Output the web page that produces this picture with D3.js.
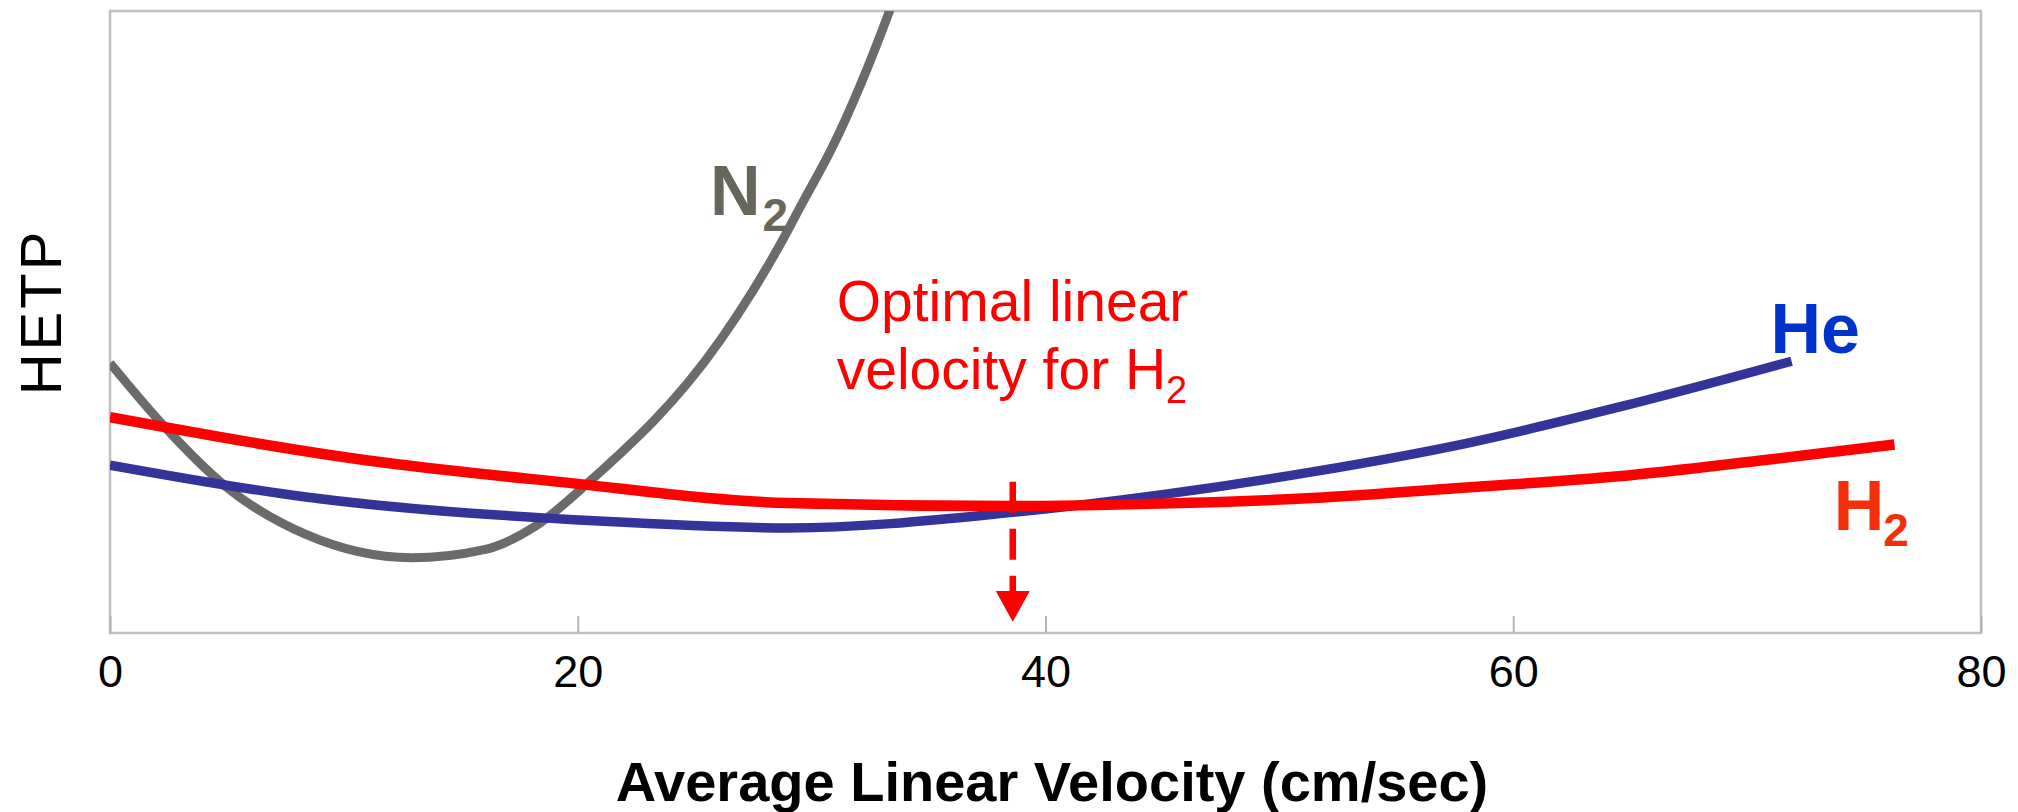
<!DOCTYPE html>
<html>
<head>
<meta charset="utf-8">
<script src="https://cdn.jsdelivr.net/npm/d3@7"></script>
<style>
  body { margin: 0; background: #ffffff; }
  svg { display: block; }
</style>
</head>
<body>
<svg id="chart" width="2018" height="812"></svg>
<script>
// Van Deemter curves: HETP (arbitrary units) vs average linear velocity (cm/sec)
const velocityTicks = [0, 20, 40, 60, 80];

const n2Velocity = [0, 2.3, 5.0, 8.4, 12.9, 16.0, 18.2, 20.4, 26.1, 27.5, 28.6, 29.6, 30.9, 33.3, 34.0];
const n2Hetp     = [43.4, 33.3, 23.4, 15.8, 12.1, 13.4, 17.2, 24.0, 47.1, 55.1, 62.1, 69.1, 78.2, 99.7, 107];

const heVelocity = [0, 8.3, 20.9, 29.0, 38.6, 44.9, 51.4, 58.0, 64.5, 71.9];
const heHetp     = [27.0, 21.9, 18.0, 16.9, 19.4, 22.2, 25.9, 30.5, 36.3, 43.7];

const h2Velocity = [0, 11.7, 19.2, 29.0, 38.6, 44.9, 51.4, 58.0, 64.5, 70.5, 76.3];
const h2Hetp     = [34.7, 27.4, 24.3, 20.9, 20.4, 20.8, 21.7, 23.4, 25.2, 27.7, 30.3];

const optimalH2Velocity = 38.6;

const svg = d3.select("#chart");
const FONT = "'Liberation Sans', Arial, Helvetica, sans-serif";

const plot = { left: 110, right: 1981, top: 11, bottom: 633 };

const x = d3.scaleLinear().domain([0, 80]).range([plot.left, plot.right]);
const y = d3.scaleLinear().domain([0, 100]).range([plot.bottom, plot.top]);

// clip curves to the plotting frame
svg.append("defs").append("clipPath").attr("id", "plot-clip")
  .append("rect")
  .attr("x", plot.left).attr("y", plot.top)
  .attr("width", plot.right - plot.left).attr("height", plot.bottom - plot.top);

// frame
svg.append("rect")
  .attr("x", plot.left).attr("y", plot.top)
  .attr("width", plot.right - plot.left).attr("height", plot.bottom - plot.top)
  .attr("fill", "none").attr("stroke", "#bfbfbf").attr("stroke-width", 2.5);

// x axis: inward ticks and labels
const xAxis = d3.axisBottom(x)
  .tickValues(velocityTicks)
  .tickFormat(d3.format("d"))
  .tickSizeInner(-17)
  .tickSizeOuter(0)
  .tickPadding(22);

const gx = svg.append("g")
  .attr("transform", `translate(0,${plot.bottom})`)
  .call(xAxis);
gx.select(".domain").remove();
gx.selectAll(".tick line").attr("stroke", "#b3b3b3").attr("stroke-width", 2);
gx.selectAll(".tick text")
  .attr("fill", "#000")
  .style("font-family", FONT)
  .style("font-size", "45px");

// axis titles
svg.append("text")
  .attr("x", 1052).attr("y", 801)
  .attr("text-anchor", "middle")
  .style("font-family", FONT).style("font-size", "56px").style("font-weight", "bold")
  .attr("fill", "#000")
  .text("Average Linear Velocity (cm/sec)");

svg.append("text")
  .attr("transform", "translate(61,312) rotate(-90)")
  .attr("text-anchor", "middle")
  .style("font-family", FONT).style("font-size", "58px")
  .style("letter-spacing", "3px")
  .attr("fill", "#000")
  .text("HETP");

// curves: monotone cubic interpolation along velocity
const line = d3.line()
  .x(d => x(d[0]))
  .y(d => y(d[1]))
  .curve(d3.curveMonotoneX);

const series = [
  { v: n2Velocity, h: n2Hetp, color: "#6b6b6b", width: 9 },
  { v: heVelocity, h: heHetp, color: "#333399", width: 9.5 },
  { v: h2Velocity, h: h2Hetp, color: "#ff0000", width: 10.5 }
];

const curves = svg.append("g").attr("clip-path", "url(#plot-clip)");
series.forEach(s => {
  curves.append("path")
    .datum(d3.zip(s.v, s.h))
    .attr("d", line)
    .attr("fill", "none")
    .attr("stroke", s.color)
    .attr("stroke-width", s.width)
    .attr("stroke-linecap", "butt")
    .attr("stroke-linejoin", "round");
});

// optimal velocity marker: dashed drop line with arrow head
const ax = x(optimalH2Velocity);
const arrowTop = y(24.3), headBase = y(6.75), tip = y(1.8);
svg.append("line")
  .attr("x1", ax).attr("x2", ax)
  .attr("y1", arrowTop).attr("y2", headBase)
  .attr("stroke", "#ff0000").attr("stroke-width", 6.5)
  .attr("stroke-dasharray", "31,16");
svg.append("path")
  .attr("d", `M${ax - 17},${headBase} L${ax + 17},${headBase} L${ax},${tip} Z`)
  .attr("fill", "#ff0000");

// annotation
const note = svg.append("text")
  .attr("fill", "#ff0000")
  .style("font-family", FONT).style("font-size", "57px");
note.append("tspan").attr("x", x(31.2) - 3).attr("y", y(50.1)).text("Optimal linear");
note.append("tspan").attr("x", x(31.2) - 3).attr("y", y(39.3)).text("velocity for H");
note.append("tspan").attr("dy", 14).style("font-size", "38px").text("2");

// series labels with subscripts
function chemLabel(txt, sub, vx, hy, color, subDx) {
  const t = svg.append("text")
    .attr("x", x(vx)).attr("y", y(hy))
    .attr("fill", color)
    .style("font-family", FONT).style("font-size", "70px").style("font-weight", "bold")
    .text(txt);
  if (sub) {
    t.append("tspan").attr("dx", subDx).attr("dy", 16)
      .style("font-size", "46px").text(sub);
  }
}
chemLabel("N", "2", 25.65, 67.2, "#66665a", 2);
chemLabel("He", null, 71.0, 45.05, "#0033cc", 0);
chemLabel("H", "2", 73.7, 16.5, "#f2300a", -1);
</script>
</body>
</html>
